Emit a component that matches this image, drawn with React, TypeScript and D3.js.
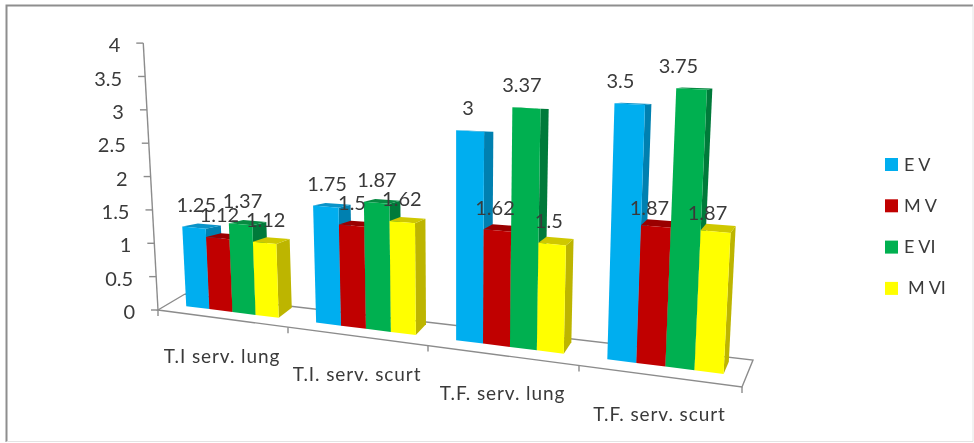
import React from "react";
import * as d3 from "d3";

const categories = ["T.I serv. lung", "T.I. serv. scurt", "T.F. serv. lung", "T.F. serv. scurt"];
const seriesNames = ["E V", "M V", "E VI", "M VI"];
const eV = [1.25, 1.75, 3, 3.5];
const mV = [1.12, 1.5, 1.62, 1.87];
const eVI = [1.37, 1.87, 3.37, 3.75];
const mVI = [1.12, 1.62, 1.5, 1.87];
const seriesValues = [eV, mV, eVI, mVI];
const valueTicks = [0, 0.5, 1, 1.5, 2, 2.5, 3, 3.5, 4];

const frontFaces = ["#00AEEF", "#C00000", "#00B050", "#FFFF00"];
const topFaces = ["#0A93C8", "#9A0000", "#078A42", "#CFC800"];
const sideFaces = ["#0080B0", "#8E0000", "#007A3A", "#BDB500"];

const W = 974;
const H = 443;
const FONT = "Lato, 'Open Sans', sans-serif";
const INK = "#3a3a3a";
const GREY = "#8c8c8c";

// Floor of the 3D chart, as scales over category position t (0..4)
const frontX = d3.scaleLinear().domain([0, 1, 2, 3, 4]).range([158, 288, 428, 579, 742]);
const backX = d3.scaleLinear().domain([0, 1, 2, 3, 4]).range([185, 311, 447, 594, 753]);
const frontY = d3.scaleLinear().domain([158, 742]).range([310, 387]);
const backY = d3.scaleLinear().domain([185, 753]).range([294, 360]);
const tToU = d3.scaleLinear().domain([0, 4]).range([0, 1]);

const VANISH_X = 456;
const VANISH_DIST = 5400;
const BAR_D = 0.38;
const GAP = 0.14;
const BAR_W = 0.18;

function floorPt(t: number, d: number): [number, number] {
  const fx = frontX(t);
  const bx = backX(t);
  const fy = frontY(fx);
  const by = backY(bx);
  return [fx + d * (bx - fx), fy + d * (by - fy)];
}

function unitHeight(t: number, d: number) {
  const u = tToU(t);
  return 63.3 + 12.5 * u + (BAR_D - d) * (9 - 3 * u);
}

function project(t: number, d: number, v: number): [number, number] {
  const [x, y] = floorPt(t, d);
  const h = v * unitHeight(t, d);
  return [x + ((x - VANISH_X) / VANISH_DIST) * h, y - h];
}

const poly = d3.line<[number, number]>().curve(d3.curveLinearClosed);
const seg = d3.line<[number, number]>();

function Bar({ c, s, v }: { c: number; s: number; v: number }) {
  const t0 = c + GAP + BAR_W * s;
  const t1 = t0 + BAR_W;
  const d0 = BAR_D;
  const d1 = BAR_D + 0.58 - 0.13 * tToU(t1);
  const fl0 = project(t0, d0, 0);
  const fr0 = project(t1, d0, 0);
  const fl1 = project(t0, d0, v);
  const fr1 = project(t1, d0, v);
  const br0 = project(t1, d1, 0);
  const br1 = project(t1, d1, v);
  const bl1 = project(t0, d1, v);
  return (
    <g>
      <path d={poly([fr0, br0, br1, fr1]) as string} fill={sideFaces[s]} />
      <path d={poly([fl1, fr1, br1, bl1]) as string} fill={topFaces[s]} />
      <path d={poly([fl0, fr0, fr1, fl1]) as string} fill={frontFaces[s]} />
    </g>
  );
}

function label(c: number, s: number, v: number) {
  const t = c + GAP + BAR_W * s + BAR_W / 2;
  const [x] = floorPt(t, BAR_D);
  const [, y] = project(t, BAR_D, v);
  const lower = c === 3 && (s === 1 || s === 3);
  return { x: x - 1.5, y: y - (lower ? 17 : 21) };
}

export default function App() {
  const axisTop = project(0, 0, 4);
  const axisBottom = project(0, 0, 0);
  const boxFL = floorPt(0, 0);
  const boxBL = floorPt(0, 1);
  const boxBR = floorPt(4, 1);
  const boxFR = floorPt(4, 0);
  const catTicks = d3.range(0, 5);

  return (
    <svg
      width={W}
      height={H}
      viewBox={`0 0 ${W} ${H}`}
      style={{ position: "absolute", left: 0, top: 0, background: "#fff", filter: "blur(0.45px)" }}
    >
      <path d="M6.5 442 L6.5 5.5 L973 5.5" fill="none" stroke="#8e8e8e" strokeWidth={2} />
      <path d="M973 5.5 L973 441.5 L6.5 441.5" fill="none" stroke="#e4e4e4" strokeWidth={1} />

      {/* floor and wall edges */}
      <g fill="none" stroke={GREY} strokeWidth={1.4}>
        <path d={seg([boxBL, boxFL, boxFR, boxBR, boxBL]) as string} />
        <path d={seg([axisTop, axisBottom]) as string} />
      </g>

      {/* value axis */}
      {valueTicks.map((v) => {
        const [x, y] = project(0, 0, v);
        return (
          <g key={v}>
            <line x1={x - 7} x2={x} y1={y} y2={y} stroke={GREY} strokeWidth={1.4} />
            <text
              x={x - 23}
              y={y + 4}
              textAnchor="end"
              dominantBaseline="middle"
              fontFamily={FONT}
              fontSize={20}
              fill={INK}
            >
              {v}
            </text>
          </g>
        );
      })}

      {/* category ticks and labels */}
      {catTicks.map((t) => {
        const [x, y] = floorPt(t, 0);
        return <line key={t} x1={x} x2={x} y1={y} y2={y + 6} stroke={GREY} strokeWidth={1.4} />;
      })}
      {categories.map((name, c) => {
        const [x, y] = floorPt(c + 0.5, 0);
        return (
          <text
            key={name}
            x={x - 1}
            y={y + 40}
            textAnchor="middle"
            dominantBaseline="middle"
            fontFamily={FONT}
            fontSize={19}
            letterSpacing={0.9}
            fill={INK}
          >
            {name}
          </text>
        );
      })}

      {/* bars */}
      {categories.map((_, c) =>
        seriesValues.map((vals, s) => <Bar key={`${c}-${s}`} c={c} s={s} v={vals[c]} />)
      )}

      {/* data labels */}
      {categories.map((_, c) =>
        seriesValues.map((vals, s) => {
          const p = label(c, s, vals[c]);
          return (
            <text
              key={`${c}-${s}`}
              x={p.x}
              y={p.y}
              textAnchor="middle"
              dominantBaseline="middle"
              fontFamily={FONT}
              fontSize={20}
              fill={INK}
            >
              {vals[c]}
            </text>
          );
        })
      )}

      {/* legend */}
      {seriesNames.map((name, s) => (
        <g key={name} transform={`translate(885,${158 + 41.3 * s})`}>
          <rect width={13} height={13} fill={frontFaces[s]} />
          <text
            x={s === 3 ? 23 : 19}
            y={8}
            dominantBaseline="middle"
            fontFamily={FONT}
            fontSize={18}
            fill={INK}
          >
            {name}
          </text>
        </g>
      ))}
    </svg>
  );
}
